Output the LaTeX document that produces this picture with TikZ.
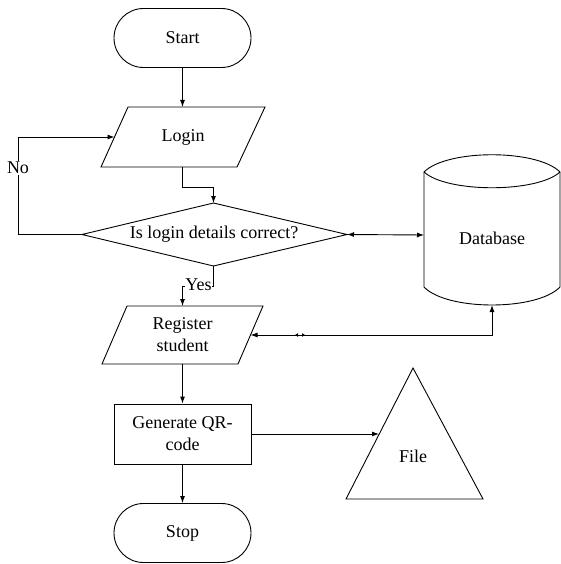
\documentclass[tikz,border=0pt]{standalone}
\usepackage{fontspec}
\setmainfont{Liberation Serif}
\newfontfamily\tnr{Liberation Serif}
\usetikzlibrary{arrows.meta,shapes.misc}
\begin{document}
\begin{tikzpicture}[x=1pt,y=-1pt,line width=0.9pt,
  txt/.style={font=\tnr\fontsize{18}{22}\selectfont},
  lbl/.style={txt,align=center,inner sep=1pt},
  terminal/.style={txt,draw,rounded rectangle,minimum width=137pt,minimum height=59pt,inner sep=0pt},
  procbox/.style={txt,draw,rectangle,minimum width=137pt,minimum height=60pt,inner sep=0pt,align=center},
  flow/.style={-{Latex[length=7pt,width=5pt]}},
  both/.style={{Latex[length=7pt,width=5pt]}-{Latex[length=7pt,width=5pt]}},
  outline/.style={draw,fill=white,line join=miter}]
\useasboundingbox (0,0) rectangle (560,564);
% ---------- shapes ----------
\node[terminal] (start) at (182.5,38) {Start};
% Login parallelogram
\coordinate (lgTL) at (128,107); \coordinate (lgTR) at (265,107);
\coordinate (lgBR) at (237,167); \coordinate (lgBL) at (101,167);
\draw[outline] (lgTL) -- (lgTR) -- (lgBR) -- (lgBL) -- cycle;
\node[lbl] (login) at (183,137) {Login};
\coordinate (lgTop) at (182.5,107); \coordinate (lgBot) at (182.5,167);
\coordinate (lgLeft) at (114.5,137);
% Decision diamond
\coordinate (dTop) at (213.5,203); \coordinate (dRight) at (347,234.5);
\coordinate (dBot) at (213.5,266); \coordinate (dLeft) at (82,234.5);
\draw[outline] (dTop) -- (dRight) -- (dBot) -- (dLeft) -- cycle;
\node[lbl] (decide) at (214,234) {Is login details correct?};
% Database cylinder
\draw[outline] (424,172) .. controls (447,149) and (537,149) .. (560,172)
  -- (560,287) .. controls (537,311) and (447,311) .. (424,287) -- cycle;
\draw (424,172) .. controls (447,193) and (537,193) .. (560,172);
\coordinate (dbLeft) at (424,235); \coordinate (dbBot) at (492,305);
\node[lbl] (db) at (492,238) {Database};
% Register parallelogram
\coordinate (rgTL) at (127,306); \coordinate (rgTR) at (263,306);
\coordinate (rgBR) at (238,364); \coordinate (rgBL) at (102,364);
\draw[outline] (rgTL) -- (rgTR) -- (rgBR) -- (rgBL) -- cycle;
\node[lbl] (reg) at (182.5,335) {Register\\student};
\coordinate (rgTop) at (182.5,306); \coordinate (rgBot) at (182.5,364);
\coordinate (rgRight) at (250.5,335);
% Generate box
\node[procbox] (gen) at (182.5,434) {Generate QR-\\code};
% File triangle
\coordinate (fApex) at (413,368); \coordinate (fBR) at (483,499); \coordinate (fBL) at (346,499);
\draw[outline] (fApex) -- (fBR) -- (fBL) -- cycle;
\node[lbl] (file) at (413,456) {File};
\coordinate (fLeft) at (379,434);
% Stop
\node[terminal] (stop) at (182.5,533) {Stop};
% ---------- connectors ----------
\draw[flow] (start.south) -- (lgTop);
\draw[flow] (lgBot) -- (182.5,187) -- (213.5,187) -- (dTop);
\draw[flow] (dLeft) -- (18,234.5) -- (18,137) -- (lgLeft);
\node[lbl,fill=white] (no) at (18,168) {No};
\draw[flow] (dBot) -- (213.5,286) -- (182.5,286) -- (rgTop);
\node[lbl,fill=white,inner sep=0.5pt] (yes) at (198.5,285) {Yes};
\draw[both] (dRight) -- (dbLeft);
\draw[both] (rgRight) -- (492,335) -- (dbBot);
\coordinate (tkA) at (295,335); \coordinate (tkB) at (305,335);
\draw[{Latex[length=3pt,width=4pt]}-{Latex[length=3pt,width=4pt]}] (tkA) -- (tkB);
\draw[flow] (rgBot) -- (gen.north);
\draw[flow] (gen.east) -- (fLeft);
\draw[flow] (gen.south) -- (stop.north);
\end{tikzpicture}
\end{document}
